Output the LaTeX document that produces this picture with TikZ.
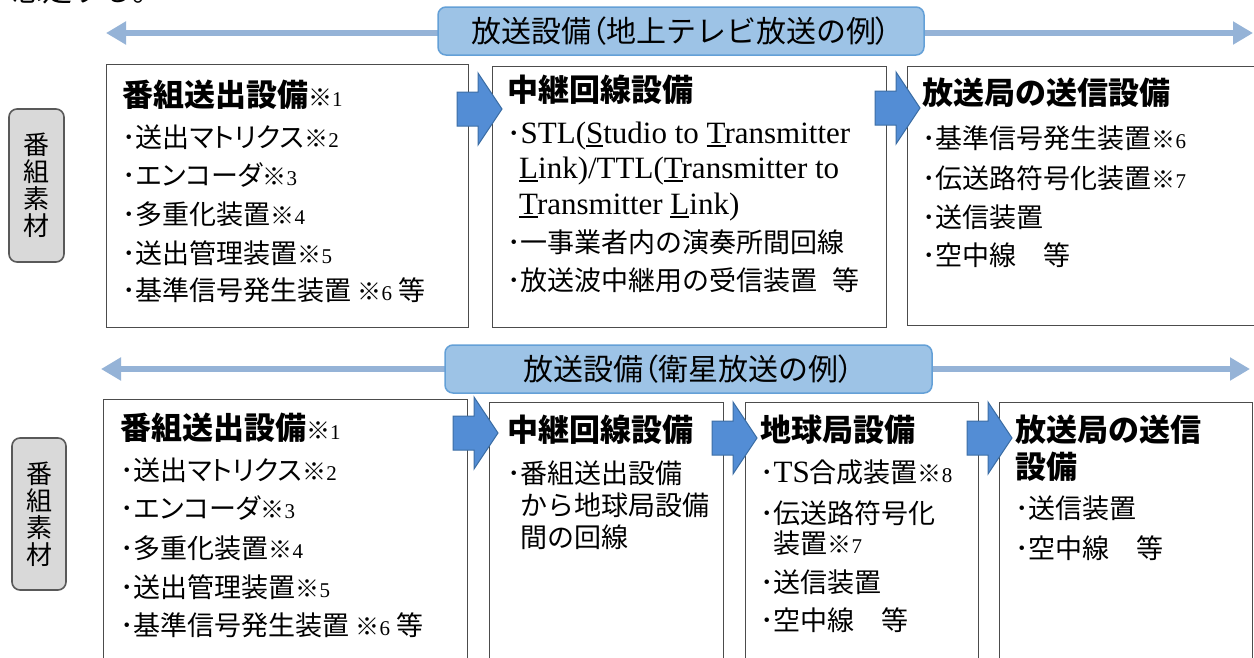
\documentclass[tikz,border=0pt]{standalone}
\usepackage{fontspec}
\newfontfamily\jp{Noto Sans CJK JP}
\newfontfamily\jpk[RawFeature=+palt]{Noto Sans CJK JP}
\newfontfamily\lsr{Liberation Serif}
\usetikzlibrary{arrows.meta}
\definecolor{lblfill}{RGB}{157,195,230}
\definecolor{lbldraw}{RGB}{100,160,215}
\definecolor{lineblue}{RGB}{149,179,215}
\definecolor{blkfill}{RGB}{83,141,213}
\definecolor{blkdraw}{RGB}{60,110,165}
\definecolor{sidefill}{RGB}{217,217,217}
\newcommand\kome[1]{{\mdseries\fontsize{24}{24}\selectfont\jp ※\lsr\fontsize{21}{21}\selectfont #1}}
\newcommand\dt{{\jp ･}}
\newcommand\ulc[1]{\setbox0\hbox{#1}\rlap{\rule[-4pt]{\wd0}{2.4pt}}#1}
\newcommand\lat{\lsr\fontsize{31}{31}\selectfont}
\newcommand\barrow[2]{\draw[blk] (#1,#2-17) -- (#1+21,#2-17) -- (#1+21,#2-36) -- (#1+45,#2) -- (#1+21,#2+36) -- (#1+21,#2+17) -- (#1,#2+17) -- cycle;}
\tikzset{
  box/.style={draw=black!70, line width=1.4pt, fill=white, anchor=north west, inner sep=0pt},
  lbl/.style={draw=lbldraw, line width=1.5pt, fill=lblfill, rounded corners=8pt, inner sep=0pt,
    font=\jp\fontsize{30}{30}\selectfont},
  side/.style={draw=black!65, line width=1.6pt, fill=sidefill, rounded corners=8pt, inner sep=0pt,
    align=center, font=\jp\fontsize{26}{27}\selectfont},
  larrow/.style={draw=lineblue, line width=6pt, {Triangle[length=20pt,width=22pt]}-{Triangle[length=20pt,width=22pt]}},
  blk/.style={fill=blkfill, draw=blkdraw, line width=1pt},
  itm/.style={anchor=west, inner sep=0pt, font=\jp\fontsize{27}{27}\selectfont, text height=23.8pt, text depth=3.2pt},
  ttl/.style={anchor=west, inner sep=0pt, font=\jp\bfseries\fontsize{31}{31}\selectfont, text height=27.3pt, text depth=3.7pt},
}
\begin{document}
\begin{tikzpicture}[x=1pt,y=-1pt]
\useasboundingbox (0,0) rectangle (1254,657);
\clip (0,0) rectangle (1254,657);
\fill[white] (0,0) rectangle (1254,657);
% cut-off text at top
\node[anchor=base west, inner sep=0pt, font=\jp\fontsize{30}{30}\selectfont] (cut) at (12,1.5) {想定する。};

% ---------- top row ----------
\coordinate (tl) at (106,33);
\coordinate (tr) at (1253,33);
\draw[larrow] (tl) -- (tr);
\node[lbl, minimum width=486pt, minimum height=48pt] (lab1) at (681,31) {放送設備{\jpk （}地上テレビ放送の例{\jpk ）}};

\node[side, minimum width=55pt, minimum height=153pt] (s1) at (36.5,185.5) {番\\組\\素\\材};

\node[box, minimum width=362pt, minimum height=263pt] (b1) at (106,64) {};
\node[box, minimum width=394pt, minimum height=261pt] (b2) at (492,66) {};
\node[box, minimum width=355pt, minimum height=259pt] (b3) at (907,66) {};

\barrow{457}{109}
\barrow{875}{108}

\node[ttl] (b1t) at (122,95) {番組送出設備\kome{1}};
\node[itm] (b1a) at (122,137) {\dt 送出{\jpk マトリクス}\kome{2}};
\node[itm] (b1b) at (122,175) {\dt {\jpk エンコーダ}\kome{3}};
\node[itm] (b1c) at (122,214) {\dt 多重化装置\kome{4}};
\node[itm] (b1d) at (122,253) {\dt 送出管理装置\kome{5}};
\node[itm] (b1e) at (122,290) {\dt 基準信号発生装置 \kome{6} 等};

\node[ttl] (b2t) at (507,90) {中継回線設備};
\node[itm] (b2a) at (507,133) {\dt\lat STL(\ulc{S}tudio to \ulc{T}ransmitter};
\node[itm] (b2b) at (519,168) {\lat \ulc{L}ink)/TTL(\ulc{T}ransmitter to};
\node[itm] (b2c) at (519,204) {\lat \ulc{T}ransmitter \ulc{L}ink)};
\node[itm] (b2d) at (507,242) {\dt 一事業者内の演奏所間回線};
\node[itm] (b2e) at (507,280) {\dt 放送波中継用の受信装置\hspace{15pt}等};

\node[ttl] (b3t) at (922,93) {放送局の送信設備};
\node[itm] (b3a) at (922,138) {\dt 基準信号発生装置\kome{6}};
\node[itm] (b3b) at (922,178) {\dt 伝送路符号化装置\kome{7}};
\node[itm] (b3c) at (922,217) {\dt 送信装置};
\node[itm] (b3d) at (922,255) {\dt 空中線\hspace{27pt}等};

% ---------- bottom row ----------
\coordinate (bl) at (101,369);
\coordinate (br) at (1250,369);
\draw[larrow] (bl) -- (br);
\node[lbl, minimum width=487pt, minimum height=48pt] (lab2) at (688.5,369) {放送設備{\jpk （}衛星放送の例{\jpk ）}};

\node[side, minimum width=54pt, minimum height=152pt] (s2) at (39,514) {番\\組\\素\\材};

\node[box, minimum width=364pt, minimum height=270pt] (c1) at (103,399) {};
\node[box, minimum width=234pt, minimum height=270pt] (c2) at (489,402) {};
\node[box, minimum width=233pt, minimum height=270pt] (c3) at (745,402) {};
\node[box, minimum width=253pt, minimum height=270pt] (c4) at (999,402) {};

\barrow{453}{433}
\barrow{712}{438}
\barrow{967}{438}

\node[ttl] (c1t) at (120,428) {番組送出設備\kome{1}};
\node[itm] (c1a) at (120,470) {\dt 送出{\jpk マトリクス}\kome{2}};
\node[itm] (c1b) at (120,508) {\dt {\jpk エンコーダ}\kome{3}};
\node[itm] (c1c) at (120,548) {\dt 多重化装置\kome{4}};
\node[itm] (c1d) at (120,587) {\dt 送出管理装置\kome{5}};
\node[itm] (c1e) at (120,625) {\dt 基準信号発生装置 \kome{6} 等};

\node[ttl] (c2t) at (507,430) {中継回線設備};
\node[itm] (c2a) at (507,473) {\dt 番組送出設備};
\node[itm] (c2b) at (520,505) {から地球局設備};
\node[itm] (c2c) at (520,537) {間の回線};

\node[ttl] (c3t) at (760,430) {地球局設備};
\node[itm] (c3a) at (760,472) {\dt{\lat TS}合成装置\kome{8}};
\node[itm] (c3b) at (760,513) {\dt 伝送路符号化};
\node[itm] (c3c) at (773.5,543) {装置\kome{7}};
\node[itm] (c3d) at (760,582) {\dt 送信装置};
\node[itm] (c3e) at (760,620) {\dt 空中線\hspace{27pt}等};

\node[ttl] (c4t) at (1015,430) {放送局の送信};
\node[ttl] (c4u) at (1015,467) {設備};
\node[itm] (c4a) at (1015,508) {\dt 送信装置};
\node[itm] (c4b) at (1015,548) {\dt 空中線\hspace{27pt}等};
\end{tikzpicture}
\end{document}
